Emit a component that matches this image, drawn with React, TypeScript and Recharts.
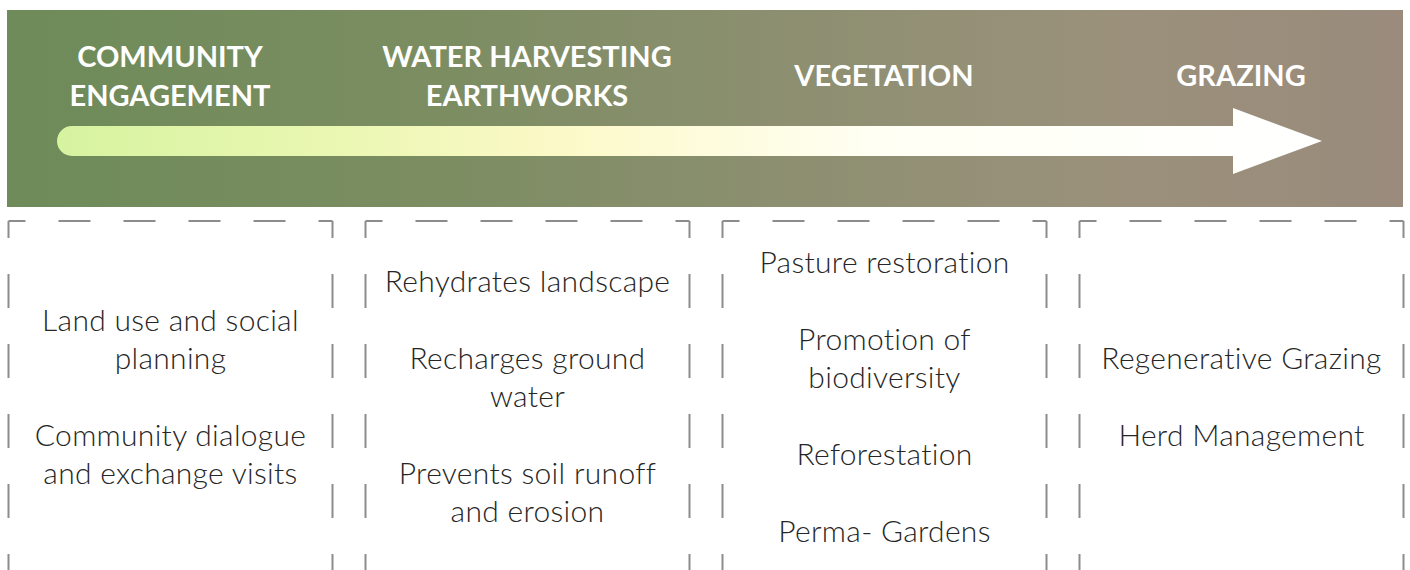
import React from "react";
import { BarChart, Bar, XAxis, YAxis, Customized } from "recharts";

// stage titles (one entry per line)
const stageTitles: string[][] = [
  ["COMMUNITY", "ENGAGEMENT"],
  ["WATER HARVESTING", "EARTHWORKS"],
  ["VEGETATION"],
  ["GRAZING"],
];

const stageNames = stageTitles.map((t) => t.join(" "));

// activities listed under each stage
const communityItems = [["Land use and social", "planning"], ["Community dialogue", "and exchange visits"]];
const waterItems = [["Rehydrates landscape"], ["Recharges ground", "water"], ["Prevents soil runoff", "and erosion"]];
const vegetationItems = [["Pasture restoration"], ["Promotion of", "biodiversity"], ["Reforestation"], ["Perma- Gardens"]];
const grazingItems = [["Regenerative Grazing"], ["Herd Management"]];

const stageItems = [communityItems, waterItems, vegetationItems, grazingItems];
const stageSpan = [1, 1, 1, 1];

const data = stageNames.map((stage, i) => ({ stage, span: stageSpan[i] }));

const W = 1410;
const H = 570;
const DASH = "#8c8c8c";
const TEXT = "#262626";
const LINE_H = 38;
const ITEM_GAP = 39;
const TEXT_MID = 407;

function HeaderBand() {
  return (
    <g>
      <defs>
        <linearGradient id="bandFill" x1="0" y1="0" x2="1" y2="0">
          <stop offset="0" stopColor="#6e8b59" />
          <stop offset="0.3" stopColor="#7b8d61" />
          <stop offset="0.55" stopColor="#8c8f70" />
          <stop offset="0.78" stopColor="#9a917b" />
          <stop offset="1" stopColor="#9a8b7c" />
        </linearGradient>
        <linearGradient id="arrowFill" x1="0" y1="0" x2="1" y2="0">
          <stop offset="0" stopColor="#d6f3a0" />
          <stop offset="0.22" stopColor="#eaf7b2" />
          <stop offset="0.4" stopColor="#fcf9c8" />
          <stop offset="0.65" stopColor="#fffff4" />
          <stop offset="1" stopColor="#ffffff" />
        </linearGradient>
      </defs>
      <rect x={7} y={10} width={1396} height={197} fill="url(#bandFill)" />
      <path
        d="M72,126 L1233,126 L1233,108 L1322,141 L1233,174 L1233,156 L72,156 A15,15 0 0 1 72,126 Z"
        fill="url(#arrowFill)"
      />
    </g>
  );
}

function TitleTick(props: any) {
  const { x, payload } = props;
  const idx = stageNames.indexOf(payload.value);
  const lines = stageTitles[idx] || [payload.value];
  const mid = 86;
  return (
    <g>
      {lines.map((ln, i) => (
        <text
          key={i}
          x={x}
          y={mid + (i - (lines.length - 1) / 2) * 39}
          textAnchor="middle"
          fill="#ffffff"
          fontFamily="Lato, sans-serif"
          fontWeight={700}
          fontSize={29}
        >
          {ln}
        </text>
      ))}
    </g>
  );
}

function StageBox(props: any) {
  const { x, y, width, height, index } = props;
  const left = x;
  const right = x + width;
  const bottom = y + height;
  const items = stageItems[index] || [];

  const baselines: { text: string; y: number }[] = [];
  let cur = 0;
  items.forEach((item) => {
    item.forEach((ln) => {
      baselines.push({ text: ln, y: cur });
      cur += LINE_H;
    });
    cur += ITEM_GAP;
  });
  const first = baselines.length ? baselines[0].y : 0;
  const last = baselines.length ? baselines[baselines.length - 1].y : 0;
  const shift = TEXT_MID - (first + last) / 2;
  const cx = left + width / 2;

  const dashProps = { stroke: DASH, strokeWidth: 2, fill: "none" };
  return (
    <g>
      <path d={`M${left},${y} L${right},${y}`} {...dashProps} strokeDasharray="32 33" strokeDashoffset={15} />
      <path d={`M${left},${y} L${left},${bottom}`} {...dashProps} strokeDasharray="34 36" strokeDashoffset={17} />
      <path d={`M${right},${y} L${right},${bottom}`} {...dashProps} strokeDasharray="34 36" strokeDashoffset={17} />
      {baselines.map((b, i) => (
        <text
          key={i}
          x={cx}
          y={b.y + shift}
          textAnchor="middle"
          fill={TEXT}
          fontFamily="Lato, sans-serif"
          fontWeight={300}
          fontSize={30}
          letterSpacing={0.3}
        >
          {b.text}
        </text>
      ))}
    </g>
  );
}

export default function App() {
  return (
    <div style={{ position: "absolute", left: 0, top: 0, width: W, height: H, background: "#fff" }}>
      <BarChart width={W} height={H} data={data} margin={{ top: 10, right: -9.5, bottom: 0, left: -8.5 }}>
        <Customized component={<HeaderBand />} />
        <XAxis
          dataKey="stage"
          orientation="top"
          height={211}
          tickLine={false}
          axisLine={false}
          interval={0}
          tick={<TitleTick />}
        />
        <YAxis hide domain={[0, 1]} />
        <Bar dataKey="span" barSize={324} isAnimationActive={false} shape={<StageBox />} />
      </BarChart>
    </div>
  );
}
